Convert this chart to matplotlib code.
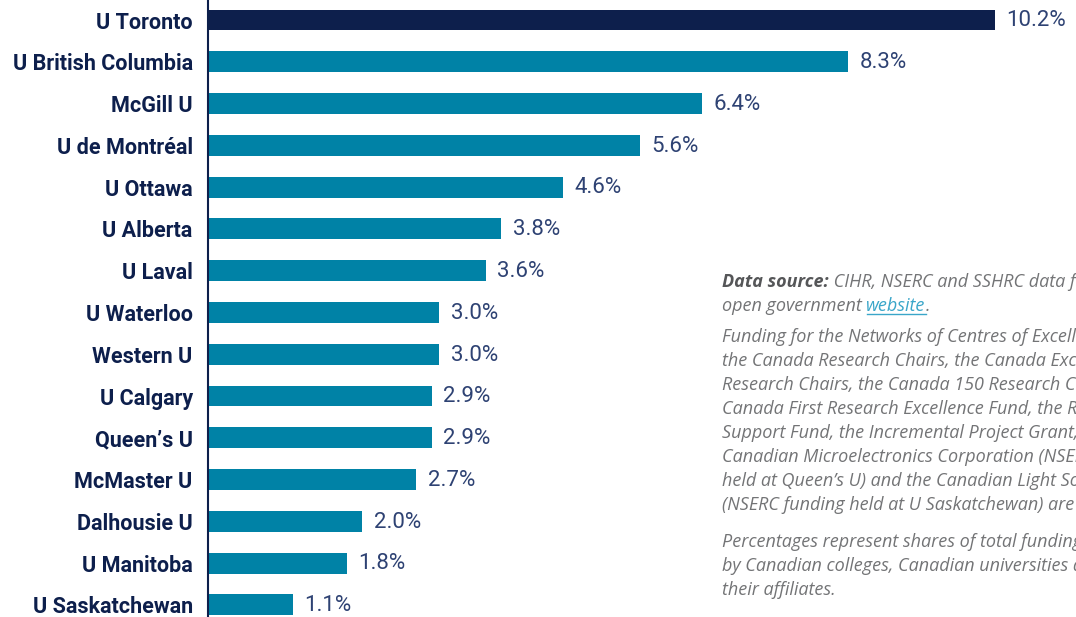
"""
Share of federal research funding by university (horizontal bars)
"""
import matplotlib

matplotlib.use("Agg")
import matplotlib.pyplot as plt
from matplotlib.lines import Line2D

universities = [
    "U Toronto", "U British Columbia", "McGill U", "U de Montréal", "U Ottawa",
    "U Alberta", "U Laval", "U Waterloo", "Western U", "U Calgary",
    "Queen’s U", "McMaster U", "Dalhousie U", "U Manitoba", "U Saskatchewan",
]
shares = [10.2, 8.3, 6.4, 5.6, 4.6, 3.8, 3.6, 3.0, 3.0, 2.9, 2.9, 2.7, 2.0, 1.8, 1.1]

source_lead = "Data source:"
source_rest = " CIHR, NSERC and SSHRC data from the"
source_line2 = "open government "
source_link = "website"
note_lines = [
    "Funding for the Networks of Centres of Excellence,",
    "the Canada Research Chairs, the Canada Excellence",
    "Research Chairs, the Canada 150 Research Chairs, the",
    "Canada First Research Excellence Fund, the Research",
    "Support Fund, the Incremental Project Grant, the",
    "Canadian Microelectronics Corporation (NSERC funding",
    "held at Queen’s U) and the Canadian Light Source",
    "(NSERC funding held at U Saskatchewan) are excluded.",
]
pct_lines = [
    "Percentages represent shares of total funding received",
    "by Canadian colleges, Canadian universities and",
    "their affiliates.",
]

NAVY = "#0d1f4c"
TEAL = "#0082a6"
GREY = "#737476"
LINK = "#3aa6c9"

plt.rcParams["font.family"] = ["Roboto", "DejaVu Sans"]

W, H = 1076, 617
fig = plt.figure(figsize=(W / 100, H / 100), dpi=100)
ax = fig.add_axes([208 / W, 0, 1 - 208 / W, 1])

pos = list(range(len(universities)))
colors = [NAVY] + [TEAL] * (len(universities) - 1)
ax.barh(pos, shares, height=0.5, color=colors)
for y, v in zip(pos, shares):
    ax.text(v + 0.15, y + 0.02, f"{v:.1f}%", va="center", ha="left",
            fontsize=16, fontweight="normal", color="#2e4273")

ax.set_xlim(0, (W - 208) / 77.16)
ax.set_ylim(14.29, -0.48)
ax.set_yticks(pos)
ax.set_yticklabels(universities, fontsize=15.5, fontweight="bold", color=NAVY)
ax.tick_params(axis="y", length=0, pad=11)
ax.set_xticks([])
for side in ("top", "right", "bottom"):
    ax.spines[side].set_visible(False)
ax.spines["left"].set_color(NAVY)
ax.spines["left"].set_linewidth(1.5)

# Notes on the right, placed in pixels
fig.canvas.draw()
renderer = fig.canvas.get_renderer()
x0 = 722
fs = 13


def px(x, y):
    return x / W, 1 - y / H


def put(x, y, s, **kw):
    t = fig.text(*px(x, y), s, fontsize=fs, style="italic", va="baseline",
                 family=["Open Sans", "DejaVu Sans"],
                 color=kw.pop("color", GREY), **kw)
    bb = t.get_window_extent(renderer)
    return t, bb


_, bb = put(x0, 287, source_lead, fontweight="bold", color="#555658")
put(x0 + bb.width, 287, source_rest)
_, bb = put(x0, 311, source_line2)
_, bb2 = put(x0 + bb.width, 311, source_link, color=LINK)
fig.add_artist(Line2D([(x0 + bb.width + 1) / W, (x0 + bb.width + bb2.width) / W],
                      [1 - 314 / H] * 2, color=LINK, lw=1))
put(x0 + bb.width + bb2.width, 311, ".")

for i, line in enumerate(note_lines):
    put(x0, 342 + 24 * i, line)
for i, line in enumerate(pct_lines):
    put(x0, 547 + 24 * i, line)

fig.savefig("out.png", dpi=100)
